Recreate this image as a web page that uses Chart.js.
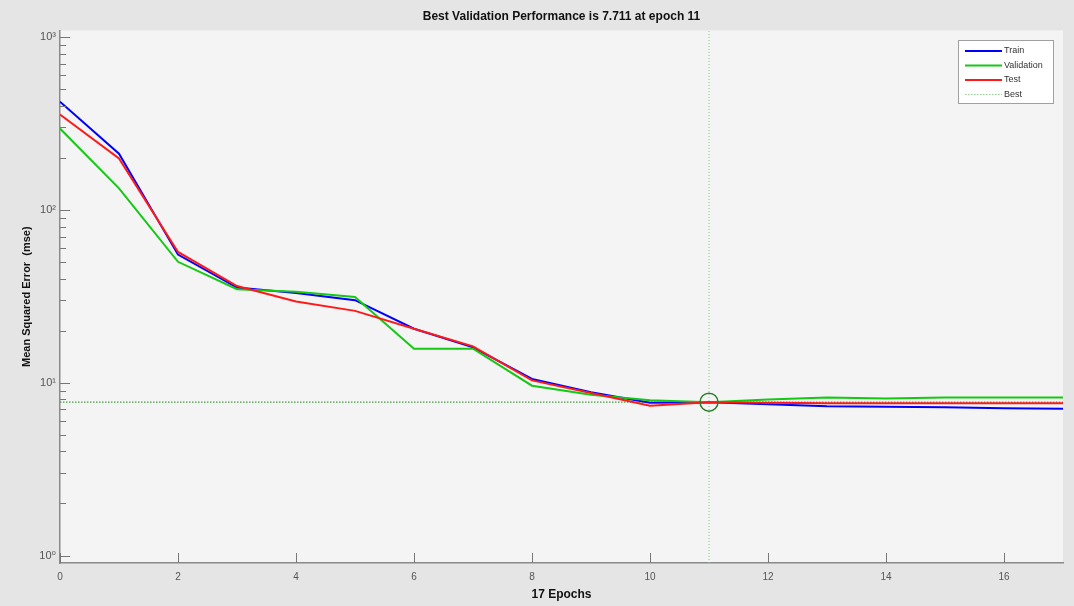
<!DOCTYPE html>
<html>
<head>
<meta charset="utf-8">
<script src="https://cdn.jsdelivr.net/npm/chart.js@4/dist/chart.umd.min.js"></script>
<style>
  html, body { margin: 0; padding: 0; background: #e5e5e5; }
  #grafico { display: block; }
</style>
</head>
<body>
<canvas id="grafico" width="1074" height="606"></canvas>
<script>
// Datos del entrenamiento
const epochs = [0, 1, 2, 3, 4, 5, 6, 7, 8, 9, 10, 11, 12, 13, 14, 15, 16, 17];
const trainErr = [422, 211, 55, 35.5, 33, 30, 20.5, 16, 10.5, 8.8, 7.65, 7.7, 7.5, 7.3, 7.25, 7.2, 7.1, 7.05];
const valErr = [295, 133, 50, 34.7, 33.5, 31.3, 15.7, 15.7, 9.6, 8.5, 7.9, 7.711, 8.0, 8.2, 8.1, 8.2, 8.2, 8.2];
const testErr = [355, 198, 57, 36.2, 29.5, 26, 20.5, 16.2, 10.3, 8.7, 7.35, 7.7, 7.65, 7.6, 7.6, 7.6, 7.6, 7.6];
const bestEpoch = 11;
const bestValue = 7.711;
const yMin = 0.905;
const yMax = 1090;
const xTicks = [0, 2, 4, 6, 8, 10, 12, 14, 16];

const FONT = "'Liberation Sans', 'DejaVu Sans', Arial, sans-serif";

function puntos(valores) {
    return epochs.map((e, i) => ({ x: e, y: valores[i] }));
}

function esPotencia(v) {
    const l = Math.log10(v);
    return Math.abs(l - Math.round(l)) < 1e-9;
}

const SUP = { '0': '\u2070', '1': '\u00b9', '2': '\u00b2', '3': '\u00b3' };

// Fondo gris claro del área del gráfico
const fondoArea = {
    id: 'fondoArea',
    beforeDraw(chart) {
        const { ctx, chartArea: a } = chart;
        ctx.save();
        ctx.fillStyle = '#f4f4f4';
        ctx.fillRect(a.left, a.top, a.right - a.left, a.bottom - a.top);
        ctx.restore();
    }
};

// Marcas de los ejes hacia dentro (estilo MATLAB)
const marcasInternas = {
    id: 'marcasInternas',
    afterDraw(chart) {
        const { ctx, chartArea: a, scales } = chart;
        ctx.save();
        ctx.strokeStyle = '#777';
        ctx.lineWidth = 1;
        scales.y.ticks.forEach(t => {
            const v = t.value;
            const exp = Math.pow(10, Math.floor(Math.log10(v) + 1e-9));
            const m = v / exp;
            if (Math.abs(m - Math.round(m)) > 1e-6) return;
            const py = Math.round(scales.y.getPixelForValue(v)) + 0.5;
            const len = esPotencia(v) ? 10 : 6;
            ctx.beginPath();
            ctx.moveTo(a.left, py);
            ctx.lineTo(a.left + len, py);
            ctx.stroke();
        });
        xTicks.forEach(v => {
            const px = Math.round(scales.x.getPixelForValue(v)) + 0.5;
            ctx.beginPath();
            ctx.moveTo(px, a.bottom);
            ctx.lineTo(px, a.bottom - 10);
            ctx.stroke();
        });
        ctx.restore();
    }
};

// Leyenda dentro del gráfico, arriba a la derecha
const leyendaCaja = {
    id: 'leyendaCaja',
    afterDraw(chart) {
        const ctx = chart.ctx;
        const x0 = 958, y0 = 40, w = 95, h = 63;
        ctx.save();
        ctx.fillStyle = '#ffffff';
        ctx.fillRect(x0, y0, w, h);
        ctx.strokeStyle = '#a0a0a0';
        ctx.lineWidth = 1;
        ctx.strokeRect(x0 + 0.5, y0 + 0.5, w, h);
        const items = chart.data.datasets.filter(d => d.enLeyenda);
        ctx.font = '9px ' + FONT;
        ctx.textBaseline = 'middle';
        items.forEach((d, i) => {
            const yy = y0 + 11 + i * 14.5;
            ctx.strokeStyle = d.colorLeyenda || d.borderColor;
            ctx.lineWidth = d.borderDash ? 1 : 2;
            ctx.setLineDash(d.borderDash || []);
            ctx.beginPath();
            ctx.moveTo(x0 + 7, yy);
            ctx.lineTo(x0 + 44, yy);
            ctx.stroke();
            ctx.setLineDash([]);
            ctx.fillStyle = '#333';
            ctx.fillText(d.label, x0 + 46, yy);
        });
        ctx.restore();
    }
};

const config = {
    type: 'line',
    data: {
        datasets: [
            {
                label: 'Train', enLeyenda: true,
                data: puntos(trainErr),
                borderColor: '#0000ff', borderWidth: 2, pointRadius: 0, order: 3
            },
            {
                label: 'Validation', enLeyenda: true,
                data: puntos(valErr),
                borderColor: '#14c814', borderWidth: 2, pointRadius: 0, order: 2
            },
            {
                label: 'Test', enLeyenda: true,
                data: puntos(testErr),
                borderColor: '#ff1a1a', borderWidth: 2, pointRadius: 0, order: 1
            },
            {
                label: 'Best', enLeyenda: true, colorLeyenda: '#8fcf8f',
                data: [{ x: 0, y: bestValue }, { x: 17, y: bestValue }],
                borderColor: '#3f9f3f', borderWidth: 1.2, borderDash: [1.5, 1.5], pointRadius: 0, order: 5
            },
            {
                label: 'BestVertical',
                data: [{ x: bestEpoch, y: yMin }, { x: bestEpoch, y: yMax }],
                borderColor: '#86c986', borderWidth: 1, borderDash: [1, 2], pointRadius: 0, order: 5
            },
            {
                label: 'BestCircle',
                data: [{ x: bestEpoch, y: bestValue }],
                showLine: false, pointRadius: 9, pointBorderWidth: 1.5,
                pointBorderColor: '#2a7f2a', pointBackgroundColor: 'rgba(0,0,0,0)', order: 0
            }
        ]
    },
    options: {
        responsive: false,
        animation: false,
        layout: { padding: { left: 0, right: 11, top: 0, bottom: 0 } },
        plugins: {
            legend: { display: false },
            tooltip: { enabled: false },
            title: {
                display: true,
                fullSize: false,
                text: 'Best Validation Performance is 7.711 at epoch 11',
                color: '#111',
                font: { family: FONT, size: 12, weight: 'bold' },
                padding: { top: 9, bottom: 7 }
            }
        },
        scales: {
            x: {
                type: 'linear',
                min: 0,
                max: 17,
                grid: { display: false, drawTicks: false },
                border: { display: true, color: '#8a8a8a', width: 1.5 },
                ticks: {
                    stepSize: 2,
                    includeBounds: false,
                    padding: 8,
                    color: '#555',
                    font: { family: FONT, size: 10 }
                },
                title: {
                    display: true,
                    text: '17 Epochs',
                    color: '#111',
                    font: { family: FONT, size: 12, weight: 'bold' },
                    padding: { top: 4, bottom: 4 }
                },
                afterFit(scale) { scale.height = 43; }
            },
            y: {
                type: 'logarithmic',
                min: yMin,
                max: yMax,
                grid: { display: false, drawTicks: false },
                border: { display: true, color: '#8a8a8a', width: 1.5 },
                ticks: {
                    autoSkip: false,
                    padding: 4,
                    color: '#555',
                    font: { family: FONT, size: 11 },
                    callback(value) {
                        if (!esPotencia(value)) return '';
                        const e = Math.round(Math.log10(value));
                        return '10' + SUP[String(e)];
                    }
                },
                title: {
                    display: true,
                    text: 'Mean Squared Error  (mse)',
                    color: '#111',
                    font: { family: FONT, size: 11, weight: 'bold' },
                    padding: { top: 20, bottom: 0 }
                },
                afterFit(scale) { scale.width = 60; }
            }
        }
    },
    plugins: [fondoArea, marcasInternas, leyendaCaja]
};

const ctx = document.getElementById('grafico').getContext('2d');
new Chart(ctx, config);
</script>
</body>
</html>
